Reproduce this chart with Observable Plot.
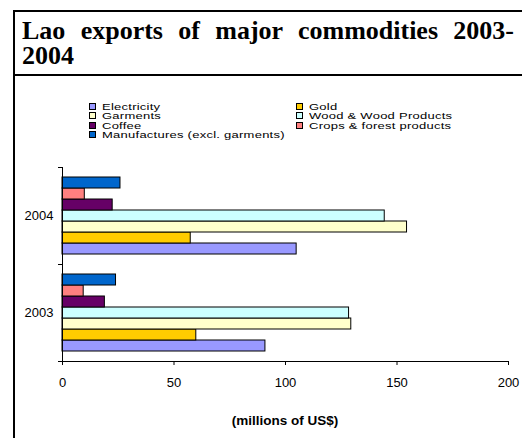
<!DOCTYPE html>
<html>
<head>
<meta charset="utf-8">
<script src="https://cdn.jsdelivr.net/npm/d3@7"></script>
<script src="https://cdn.jsdelivr.net/npm/@observablehq/plot@0.6"></script>
<style>
  html, body { margin: 0; padding: 0; background: #fff; }
  #wrap { position: relative; width: 522px; height: 438px; overflow: hidden; background: #fff; }
  #frame { position: absolute; left: 13px; top: 10px; width: 530px; height: 450px; border-left: 2px solid #000; border-top: 2px solid #000; }
  #sep { position: absolute; left: 13px; top: 74px; width: 530px; height: 2px; background: #000; }
  #title { position: absolute; left: 22px; top: 18px; width: 492px; font-family: "Liberation Serif", "Times New Roman", serif; font-weight: bold; font-size: 26px; line-height: 25px; text-align: justify; color: #000; }
  .leg { position: absolute; height: 9px; font-family: "Liberation Sans", Arial, sans-serif; font-size: 13px; line-height: 13px; color: #000; white-space: nowrap; }
  .leg span.sw { position: absolute; left: 0; top: 1px; width: 5px; height: 5px; border: 1px solid #000; }
  .leg span.tx { position: absolute; left: 13px; top: -2px; letter-spacing: 0.25px; transform: scaleY(0.7); transform-origin: left center; }
  #plot { position: absolute; left: 0; top: 160px; }
  #xtitle { position: absolute; left: 62px; width: 446px; top: 413px; text-align: center; font-family: "Liberation Sans", Arial, sans-serif; font-weight: bold; font-size: 13.5px; color: #000; }
</style>
</head>
<body>
<div id="wrap">
  <div id="frame"></div>
  <div id="sep"></div>
  <div id="title">Lao exports of major commodities 2003-2004</div>
  <div id="legend"></div>
  <div id="plot"></div>
  <div id="xtitle"></div>
</div>
<script>
// ---- data ----
const years = ["2004", "2003"];
const commodities = ["Electricity", "Gold", "Garments", "Wood & Wood Products", "Coffee", "Crops & forest products", "Manufactures (excl. garments)"];
const colors = ["#9999FF", "#FFCC00", "#FFFFCC", "#CCFFFF", "#660066", "#FF8080", "#0066CC"];
const values2003 = [91, 60, 129.5, 128.5, 19, 9.5, 24];
const values2004 = [105, 57.5, 154.5, 144.5, 22.5, 10, 26];
const xTicks = [0, 50, 100, 150, 200];
const xDomain = [0, 200];
const xTitle = "(millions of US$)";
// legend order (row-wise, two columns)
const legendOrder = ["Electricity", "Gold", "Garments", "Wood & Wood Products", "Coffee", "Crops & forest products", "Manufactures (excl. garments)"];

const data = [];
years.forEach(y => {
  const vals = y === "2003" ? values2003 : values2004;
  commodities.forEach((c, i) => data.push({year: y, commodity: c, value: vals[i]}));
});

// ---- legend ----
const legend = document.getElementById("legend");
const colX = [89, 296];
const rowY = [101.5, 111, 120.5, 130];
legendOrder.forEach((c, k) => {
  const d = document.createElement("div");
  d.className = "leg";
  d.style.left = colX[k % 2] + "px";
  d.style.top = rowY[Math.floor(k / 2)] + "px";
  const sw = document.createElement("span");
  sw.className = "sw";
  sw.style.background = colors[commodities.indexOf(c)];
  const tx = document.createElement("span");
  tx.className = "tx";
  tx.textContent = c;
  d.appendChild(sw);
  d.appendChild(tx);
  legend.appendChild(d);
});

// ---- chart ----
const yOrder = commodities.slice().reverse(); // Manufactures on top, Electricity at bottom
const chart = Plot.plot({
  width: 522,
  height: 278,
  marginLeft: 62,
  marginRight: 14,
  marginTop: 7,
  marginBottom: 77,
  style: {fontFamily: "'Liberation Sans', Arial, sans-serif", fontSize: "13px", background: "transparent", color: "#000"},
  facet: {data: data, y: "year"},
  fy: {domain: years, padding: 0, label: null, tickSize: 0, tickPadding: 9, axis: "left"},
  y: {domain: yOrder, axis: null, paddingInner: 0, paddingOuter: 0.75},
  x: {domain: xDomain, ticks: xTicks, tickSize: 4, tickPadding: 12, label: null, line: true},
  color: {domain: commodities, range: colors},
  marks: [
    Plot.barX(data, {x: "value", y: "commodity", fill: "commodity", stroke: "#000", strokeWidth: 1}),
    Plot.ruleX([0], {stroke: "#000"}),
    Plot.frame({anchor: "top", insetLeft: -4, insetRight: 446, stroke: "#000"}),
    Plot.frame({anchor: "bottom", insetLeft: -4, insetRight: 446, stroke: "#000"})
  ]
});
document.getElementById("plot").appendChild(chart);
document.getElementById("xtitle").textContent = xTitle;
</script>
</body>
</html>
